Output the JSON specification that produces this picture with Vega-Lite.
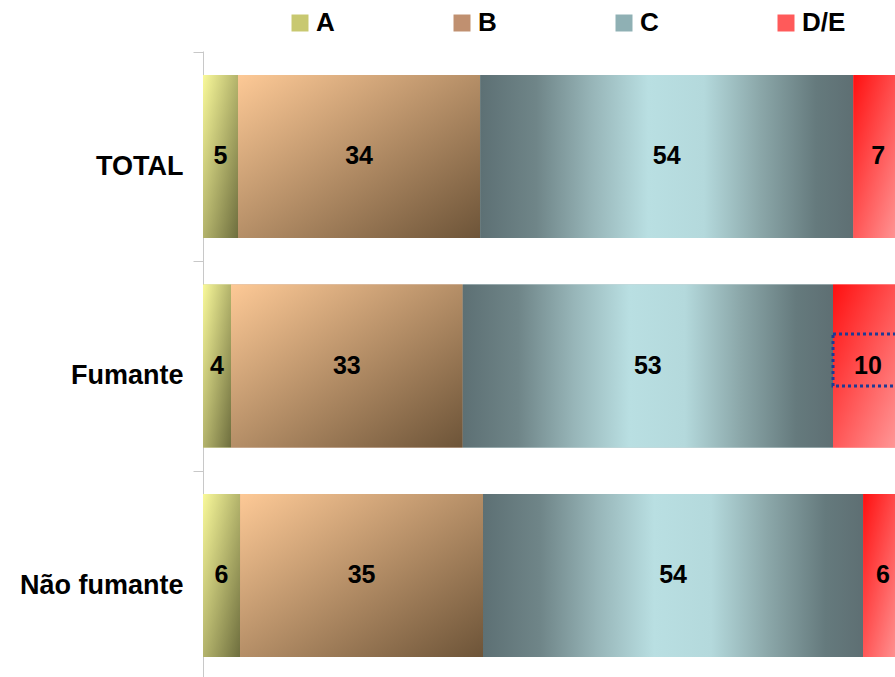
{
  "$schema": "https://vega.github.io/schema/vega-lite/v6.json",
  "width": 692,
  "height": 626,
  "autosize": "none",
  "padding": {"left": 203, "top": 51, "right": 0, "bottom": 0},
  "background": "white",
  "config": {"view": {"stroke": null}, "font": "Liberation Sans"},
  "data": {
    "values": [
      {"group": "TOTAL", "cat": "A", "share": 5.0, "label": 5, "highlight": false},
      {"group": "TOTAL", "cat": "B", "share": 34.6, "label": 34, "highlight": false},
      {"group": "TOTAL", "cat": "C", "share": 53.3, "label": 54, "highlight": false},
      {"group": "TOTAL", "cat": "D/E", "share": 7.1, "label": 7, "highlight": false},
      {"group": "Fumante", "cat": "A", "share": 4.0, "label": 4, "highlight": false},
      {"group": "Fumante", "cat": "B", "share": 33.1, "label": 33, "highlight": false},
      {"group": "Fumante", "cat": "C", "share": 52.9, "label": 53, "highlight": false},
      {"group": "Fumante", "cat": "D/E", "share": 10.0, "label": 10, "highlight": true},
      {"group": "Não fumante", "cat": "A", "share": 5.3, "label": 6, "highlight": false},
      {"group": "Não fumante", "cat": "B", "share": 34.7, "label": 35, "highlight": false},
      {"group": "Não fumante", "cat": "C", "share": 54.3, "label": 54, "highlight": false},
      {"group": "Não fumante", "cat": "D/E", "share": 5.7, "label": 6, "highlight": false}
    ]
  },
  "transform": [
    {"stack": "share", "groupby": ["group"], "sort": [{"field": "cat", "order": "ascending"}], "as": ["x0", "x1"]}
  ],
  "encoding": {
    "y": {
      "field": "group",
      "type": "nominal",
      "sort": ["TOTAL", "Fumante", "Não fumante"],
      "scale": {"paddingInner": 0.222, "paddingOuter": 0.105, "align": 0.545},
      "axis": {
        "title": null,
        "domainColor": "#c8c8c8",
        "tickColor": "#c8c8c8",
        "tickSize": 10,
        "tickOffset": -104.75,
        "labelFontSize": 27,
        "labelFontWeight": "bold",
        "labelColor": "black",
        "labelPadding": 10,
        "labelOffset": 114.75,
        "labelFont": "Liberation Sans",
        "labelLimit": 300
      }
    }
  },
  "layer": [
    {
      "mark": {"type": "bar", "clip": true},
      "encoding": {
        "x": {"field": "x0", "type": "quantitative", "scale": {"domain": [0, 98.857], "nice": false, "zero": true}, "axis": null},
        "x2": {"field": "x1"},
        "color": {
          "field": "cat",
          "type": "nominal",
          "scale": {"domain": ["A", "B", "C", "D/E"], "range": ["#c8c870", "#c09070", "#8fb0b4", "#ff5a5a"]},
          "legend": {
            "title": null,
            "orient": "none",
            "legendX": 84,
            "legendY": -41,
            "direction": "horizontal",
            "columns": 4,
            "columnPadding": 114,
            "symbolType": "square",
            "symbolSize": 289,
            "symbolStrokeWidth": 0,
            "labelFontSize": 26,
            "labelFontWeight": "bold",
            "labelFont": "Liberation Sans",
            "labelColor": "black",
            "labelOffset": 3,
            "padding": 0
          }
        }
      }
    },
    {
      "transform": [{"filter": "datum.cat === 'A'"}],
      "mark": {"type": "bar", "clip": true, "color": {"gradient": "linear", "x1": 0, "y1": 0, "x2": 1, "y2": 1, "stops": [{"offset": 0, "color": "#f9f99a"}, {"offset": 1, "color": "#6e6e3e"}]}},
      "encoding": {
        "x": {"field": "x0", "type": "quantitative", "scale": {"domain": [0, 98.857], "nice": false, "zero": true}, "axis": null},
        "x2": {"field": "x1"}
      }
    },
    {
      "transform": [{"filter": "datum.cat === 'B'"}],
      "mark": {"type": "bar", "clip": true, "color": {"gradient": "linear", "x1": 0, "y1": 0, "x2": 1, "y2": 1, "stops": [{"offset": 0, "color": "#fdc996"}, {"offset": 1, "color": "#6d5438"}]}},
      "encoding": {
        "x": {"field": "x0", "type": "quantitative", "scale": {"domain": [0, 98.857], "nice": false, "zero": true}, "axis": null},
        "x2": {"field": "x1"}
      }
    },
    {
      "transform": [{"filter": "datum.cat === 'C'"}],
      "mark": {"type": "bar", "clip": true, "color": {"gradient": "linear", "x1": 0, "y1": 0, "x2": 1, "y2": 0, "stops": [{"offset": 0, "color": "#5d7074"}, {"offset": 0.15, "color": "#6f8588"}, {"offset": 0.3, "color": "#97b5b8"}, {"offset": 0.45, "color": "#b9dfe2"}, {"offset": 0.6, "color": "#b4d9dc"}, {"offset": 0.75, "color": "#8ba7a9"}, {"offset": 0.9, "color": "#657a7d"}, {"offset": 1, "color": "#5e6f73"}]}},
      "encoding": {
        "x": {"field": "x0", "type": "quantitative", "scale": {"domain": [0, 98.857], "nice": false, "zero": true}, "axis": null},
        "x2": {"field": "x1"}
      }
    },
    {
      "transform": [{"filter": "datum.cat === 'D/E'"}],
      "mark": {"type": "bar", "clip": true, "color": {"gradient": "linear", "x1": 0, "y1": 0, "x2": 1, "y2": 1, "stops": [{"offset": 0, "color": "#ff1010"}, {"offset": 1, "color": "#ff9e9e"}]}},
      "encoding": {
        "x": {"field": "x0", "type": "quantitative", "scale": {"domain": [0, 98.857], "nice": false, "zero": true}, "axis": null},
        "x2": {"field": "x1"}
      }
    },
    {
      "transform": [{"filter": "datum.highlight"}],
      "mark": {"type": "bar", "clip": true, "filled": false, "color": "#1f3a93", "strokeWidth": 3, "strokeDash": [3, 3], "size": 52, "yOffset": -6},
      "encoding": {
        "x": {"field": "x0", "type": "quantitative", "scale": {"domain": [0, 98.857], "nice": false, "zero": true}, "axis": null},
        "x2": {"field": "x1"}
      }
    },
    {
      "transform": [{"fold": ["x0", "x1"], "as": ["edge", "pos"]}],
      "mark": {"type": "text", "fontSize": 25, "fontWeight": "bold", "font": "Liberation Sans", "color": "black"},
      "encoding": {
        "x": {"aggregate": "mean", "field": "pos", "type": "quantitative", "scale": {"domain": [0, 98.857], "nice": false, "zero": true}, "axis": null},
        "detail": {"field": "cat"},
        "text": {"field": "label", "type": "quantitative"}
      }
    }
  ]
}
